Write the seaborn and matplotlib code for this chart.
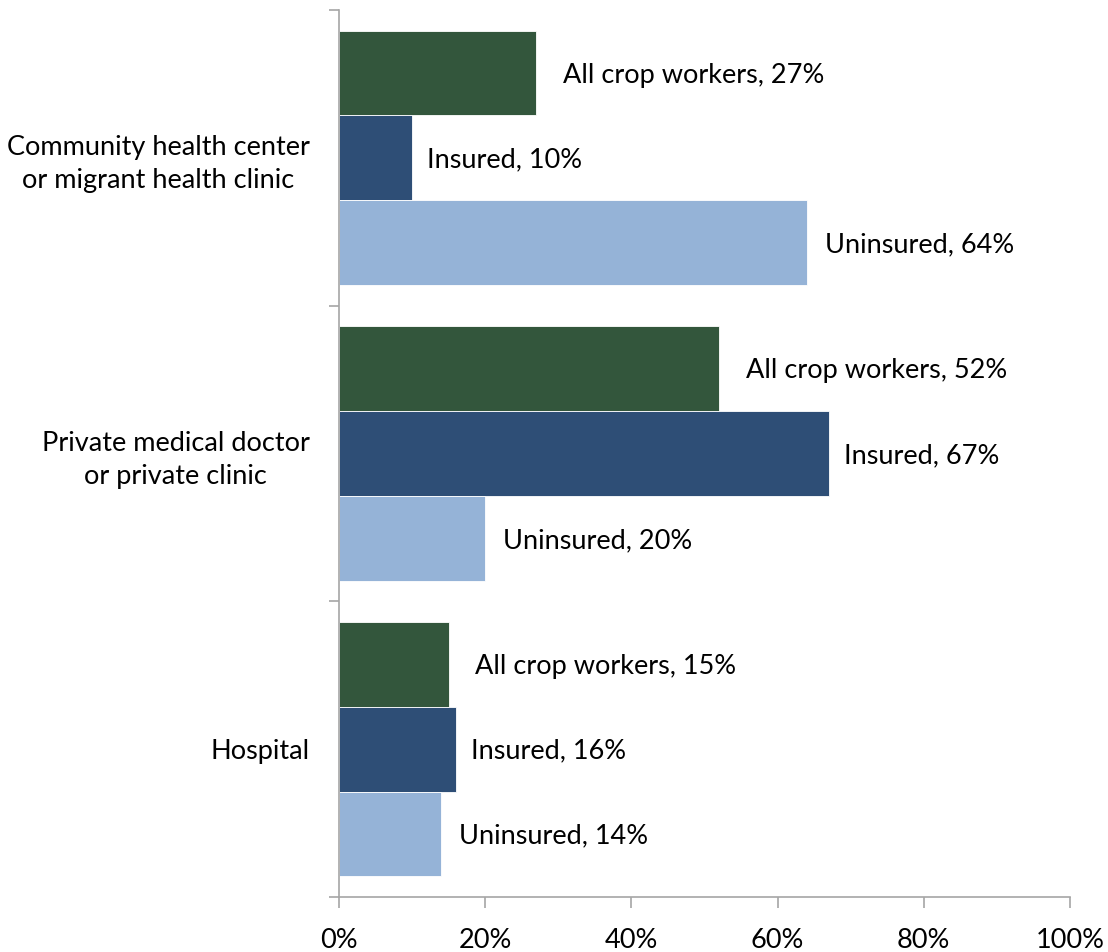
import matplotlib
matplotlib.use("Agg")
import matplotlib.pyplot as plt
import seaborn as sns
import pandas as pd

places = ["Community health center\nor migrant health clinic",
          "Private medical doctor\nor private clinic",
          "Hospital"]
groups = ["All crop workers", "Insured", "Uninsured"]
all_crop = [27, 52, 15]
insured = [10, 67, 16]
uninsured = [64, 20, 14]
colors = ["#33563c", "#2e4e76", "#95b3d7"]

rows = []
for g, vals in zip(groups, [all_crop, insured, uninsured]):
    for p, v in zip(places, vals):
        rows.append({"place": p, "group": g, "value": v})
df = pd.DataFrame(rows)

sns.set_style("white")
plt.rcParams["font.family"] = ["Lato", "DejaVu Sans"]

fig = plt.figure(figsize=(11.08, 9.52), dpi=100)
ax = fig.add_axes([339 / 1108, 1 - 897 / 952, (1070 - 339) / 1108, (897 - 10) / 952])

sns.barplot(data=df, x="value", y="place", hue="group", hue_order=groups,
            palette=colors, orient="h", width=0.86, saturation=1,
            edgecolor="white", linewidth=0.6, legend=False, ax=ax)

FS = 19.5

# data labels
offsets = {"All crop workers": 19, "Insured": 11, "Uninsured": 13}
for container, g in zip(ax.containers, groups):
    for bar, v in zip(container, df[df.group == g].value):
        ax.annotate(f"{g}, {v}%", (bar.get_width(), bar.get_y() + bar.get_height() / 2),
                    xytext=(offsets[g], -1.5), textcoords="offset points",
                    ha="left", va="center", fontsize=FS, color="black")

ax.set_xlim(0, 100)
ax.set_ylim(2.5, -0.5)
ax.set_xticks([0, 20, 40, 60, 80, 100])
ax.set_xticklabels([f"{t}%" for t in [0, 20, 40, 60, 80, 100]], fontsize=FS, color="black")
ax.set_xlabel("")
ax.set_ylabel("")

ax.set_yticks([0, 1, 2])
ax.set_yticklabels(places, fontsize=FS, color="black")
for lab in ax.get_yticklabels():
    lab.set_ha("right")
    lab.set_multialignment("center")
    lab.set_linespacing(1.4)
ax.set_yticks([-0.5, 0.5, 1.5, 2.5], minor=True)
ax.tick_params(axis="y", which="major", length=0, pad=21)
ax.tick_params(axis="y", which="minor", length=7, color="#a6a6a6", width=1.2, direction="out", left=True)
ax.tick_params(axis="x", which="major", length=8, color="#a6a6a6", width=1.2, direction="out",
               bottom=True, pad=14)

for s in ["top", "right"]:
    ax.spines[s].set_visible(False)
for s in ["left", "bottom"]:
    ax.spines[s].set_color("#a6a6a6")
    ax.spines[s].set_linewidth(1.2)

fig.savefig("out.png", dpi=100)
